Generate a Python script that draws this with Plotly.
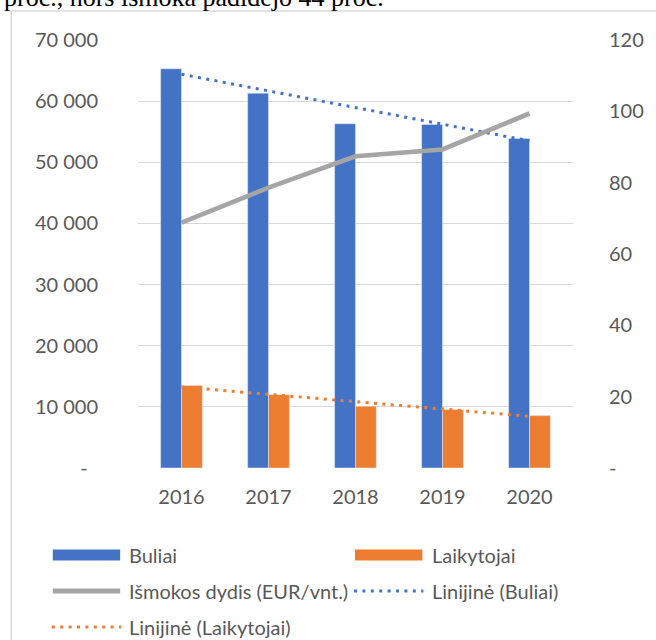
import plotly.graph_objects as go

# ---- data ----
years = ["2016", "2017", "2018", "2019", "2020"]
buliai = [65300, 61300, 56300, 56200, 53900]
laikytojai = [13500, 12000, 10100, 9550, 8570]
ismoka = [68.8, 78.6, 87.4, 89.3, 99.4]
trend_years = ["2016", "2020"]
trend_buliai = [64400, 53500]
trend_laikytojai = [13250, 8450]

left_tickvals = [0, 10000, 20000, 30000, 40000, 50000, 60000, 70000]
left_ticktext = ["-\u00a0\u00a0", "10 000", "20 000", "30 000", "40 000", "50 000", "60 000", "70 000"]
right_tickvals = [0, 20, 40, 60, 80, 100, 120]
right_ticktext = ["-", "20", "40", "60", "80", "100", "120"]

names = ["Buliai", "Laikytojai", "Išmokos dydis (EUR/vnt.)", "Linijinė (Buliai)", "Linijinė (Laikytojai)"]
top_text = "proc., nors išmoka padidėjo 44 proc."

BLUE = "#4472C4"
ORANGE = "#ED7D31"
GRAY = "#A5A5A5"
TXT = "#595959"
GRID = "#D9D9D9"
FONT = "Lato"

W, H = 656, 640
L, R, T, B = 138, 79, 40, 172
PW, PH = W - L - R, H - T - B


def px(x):
    return (x - L) / PW


def py(y):
    return (H - B - y) / PH


fig = go.Figure()
fig.add_trace(go.Bar(x=years, y=buliai, name=names[0], marker_color=BLUE, showlegend=False))
fig.add_trace(go.Bar(x=years, y=laikytojai, name=names[1], marker_color=ORANGE, showlegend=False))
fig.add_trace(go.Scatter(x=trend_years, y=trend_buliai, name=names[3], mode="lines",
                         line=dict(color=BLUE, width=3, dash="3px,5.4px"), showlegend=False))
fig.add_trace(go.Scatter(x=trend_years, y=trend_laikytojai, name=names[4], mode="lines",
                         line=dict(color=ORANGE, width=3, dash="3px,5.4px"), showlegend=False))
fig.add_trace(go.Scatter(x=years, y=ismoka, name=names[2], mode="lines", yaxis="y2",
                         line=dict(color=GRAY, width=4.7), showlegend=False))

shapes = []
annotations = []

# chart border (top and left edges visible)
shapes.append(dict(type="line", xref="paper", yref="paper", x0=px(10), x1=px(700), y0=py(11), y1=py(11),
                   line=dict(color=GRID, width=1.5)))
shapes.append(dict(type="line", xref="paper", yref="paper", x0=px(10), x1=px(10), y0=py(11), y1=py(700),
                   line=dict(color=GRID, width=1.5)))

# manual legend
rows = [555, 591, 627]
cols = [(52, 120, 127), (357, 425, 433)]
items = [
    (names[0], "bar", BLUE, 0, 0),
    (names[1], "bar", ORANGE, 0, 1),
    (names[2], "line", GRAY, 1, 0),
    (names[3], "dot", BLUE, 1, 1),
    (names[4], "dot", ORANGE, 2, 0),
]
for name, kind, color, r, c in items:
    yc = rows[r]
    x0, x1, xt = cols[c]
    if kind == "bar":
        shapes.append(dict(type="rect", xref="paper", yref="paper", x0=px(x0), x1=px(x1),
                           y0=py(yc + 5.5), y1=py(yc - 5.5), fillcolor=color, line=dict(width=0)))
    elif kind == "line":
        shapes.append(dict(type="line", xref="paper", yref="paper", x0=px(x0), x1=px(x1),
                           y0=py(yc), y1=py(yc), line=dict(color=color, width=5)))
    else:
        shapes.append(dict(type="line", xref="paper", yref="paper", x0=px(x0 - 1), x1=px(x1 + 1),
                           y0=py(yc), y1=py(yc), line=dict(color=color, width=3, dash="3px,5.4px")))
    annotations.append(dict(text=name, xref="paper", yref="paper", x=px(xt), y=py(yc),
                            xanchor="left", yanchor="middle", showarrow=False,
                            font=dict(family=FONT, size=20, color=TXT)))

# cut-off paragraph text above the chart
annotations.append(dict(text=top_text, xref="paper", yref="paper", x=px(1), y=py(14),
                        xanchor="left", yanchor="bottom", showarrow=False,
                        font=dict(family="Liberation Serif", size=26, color="#000000")))

fig.update_layout(
    width=W, height=H,
    margin=dict(l=L, r=R, t=T, b=B, pad=0),
    paper_bgcolor="white", plot_bgcolor="white",
    barmode="group", bargap=0.52, bargroupgap=0,
    showlegend=False,
    font=dict(family=FONT, size=20, color=TXT),
    xaxis=dict(type="category", showgrid=False, showline=False, zeroline=False,
               ticks="", ticklabelstandoff=15, tickfont=dict(family=FONT, size=20, color=TXT)),
    yaxis=dict(range=[0, 70000], tickvals=left_tickvals, ticktext=left_ticktext,
               showgrid=True, gridcolor=GRID, gridwidth=1.3, zeroline=False, showline=False,
               ticks="", ticklabelstandoff=39, tickfont=dict(family=FONT, size=20, color=TXT)),
    yaxis2=dict(range=[0, 120], tickvals=right_tickvals, ticktext=right_ticktext,
                overlaying="y", side="right", showgrid=False, zeroline=False, showline=False,
                ticks="", ticklabelstandoff=35, tickfont=dict(family=FONT, size=20, color=TXT)),
    shapes=shapes,
    annotations=annotations,
)

fig.write_html("out.html", config={"displayModeBar": False},
               post_script="document.body.style.margin='0';document.body.style.overflow='hidden';")
